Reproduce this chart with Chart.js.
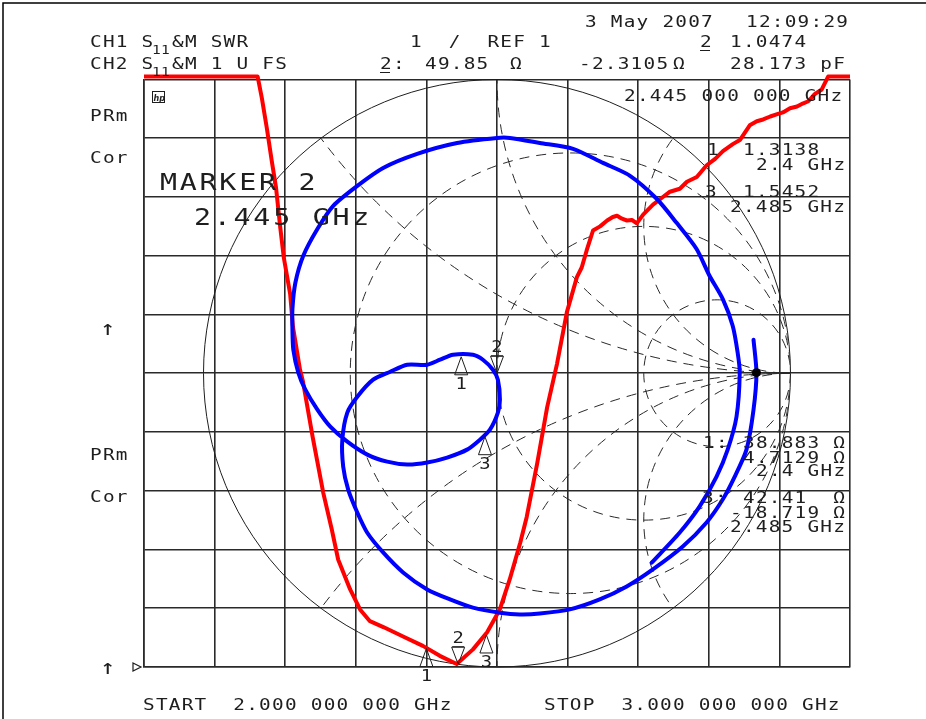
<!DOCTYPE html>
<html>
<head>
<meta charset="utf-8">
<script src="https://cdn.jsdelivr.net/npm/chart.js@4.4.1/dist/chart.umd.min.js"></script>
<style>
html,body{margin:0;padding:0;background:#fff;}
#wrap{width:926px;height:719px;position:relative;}
</style>
</head>
<body>
<div id="wrap"><canvas id="c" width="926" height="719"></canvas></div>
<script>
// ---- CH1: SWR vs frequency ----
const swrFreqGHz = [2.000,2.161,2.167,2.174,2.181,2.187,2.193,2.198,2.207,2.211,2.221,2.225,2.239,2.254,2.266,2.275,2.292,2.306,2.320,2.339,2.367,2.395,2.419,2.443,2.466,2.486,2.504,2.518,2.533,2.542,2.557,2.571,2.585,2.599,2.613,2.620,2.627,2.636,2.646,2.656,2.664,2.670,2.677,2.684,2.691,2.698,2.707,2.721,2.735,2.745,2.759,2.769,2.783,2.797,2.809,2.820,2.834,2.844,2.858,2.868,2.877,2.887,2.897,2.905,2.915,2.925,2.933,2.941,2.950,2.960,2.969,3.000];
const swrValues  = [11.05,11.05,10.68,10.17,9.61,9.16,8.48,7.97,7.35,6.79,6.06,5.87,4.91,3.96,3.34,2.83,2.32,1.98,1.78,1.68,1.52,1.36,1.19,1.05,1.30,1.59,1.98,2.49,3.12,3.55,4.47,5.42,6.16,7.04,7.63,7.80,8.09,8.43,8.50,8.60,8.66,8.68,8.63,8.60,8.61,8.55,8.70,8.87,9.00,9.09,9.14,9.26,9.34,9.54,9.65,9.78,9.90,9.97,10.22,10.29,10.32,10.37,10.41,10.44,10.51,10.54,10.59,10.63,10.75,10.83,11.05,11.05];

// ---- CH2: S11 on the Smith chart, reflection coefficient (real, imaginary) ----
const smithRe = [0.874,0.884,0.874,0.850,0.810,0.769,0.714,0.633,0.531,0.442,0.350,0.248,0.146,0.078,0.010,-0.082,-0.160,-0.238,-0.320,-0.388,-0.442,-0.476,-0.507,-0.524,-0.527,-0.510,-0.476,-0.422,-0.364,-0.306,-0.238,-0.194,-0.150,-0.082,-0.048,-0.014,0.003,0.010,0.003,-0.024,-0.058,-0.102,-0.170,-0.238,-0.306,-0.374,-0.442,-0.510,-0.568,-0.612,-0.653,-0.677,-0.694,-0.697,-0.697,-0.687,-0.660,-0.612,-0.558,-0.476,-0.388,-0.272,-0.136,0.000,0.044,0.146,0.259,0.361,0.452,0.544,0.612,0.680,0.724,0.769,0.803,0.820,0.827,0.816,0.786,0.748,0.690,0.622,0.527];
const smithIm = [0.114,0.002,-0.124,-0.260,-0.352,-0.430,-0.508,-0.590,-0.668,-0.726,-0.770,-0.804,-0.818,-0.821,-0.815,-0.798,-0.770,-0.736,-0.678,-0.610,-0.543,-0.474,-0.396,-0.318,-0.226,-0.134,-0.080,-0.022,0.005,0.029,0.029,0.046,0.063,0.063,0.046,0.012,-0.022,-0.090,-0.134,-0.192,-0.226,-0.260,-0.287,-0.304,-0.311,-0.301,-0.277,-0.233,-0.182,-0.124,-0.056,0.002,0.080,0.148,0.219,0.308,0.400,0.491,0.570,0.638,0.699,0.747,0.784,0.801,0.801,0.784,0.764,0.716,0.673,0.594,0.512,0.423,0.332,0.253,0.162,0.070,0.002,-0.148,-0.260,-0.352,-0.454,-0.543,-0.645];
const smithDotRe = [0.884];
const smithDotIm = [0.002];

// ---- markers ----
const markerLabels = ['1','2','3'];
const markerFreqGHz = [2.4, 2.445, 2.485];
const markerSwr = [1.3138, 1.0474, 1.5452];
const markerSmithRe = [-0.122, 0.000, -0.041];
const markerSmithIm = [0.056, 0.000, -0.216];
const activeMarker = 1;

// ---- axes ----
const freqStart = 2.0, freqStop = 3.0, freqStep = 0.1;
const swrRef = 1, swrTop = 11, swrPerDiv = 1;
const smithResistances = [1/3, 1, 3];
const smithReactances = [0.5, 1, 2];

const INK = '#1e1e1e';

function hpText(ctx, str, x, y, cap, pitch, align) {
  const size = cap / 0.729;
  const sx = 1.25;
  ctx.save();
  ctx.font = size.toFixed(2) + 'px "DejaVu Sans Mono"';
  ctx.letterSpacing = (pitch / sx - 0.602 * size).toFixed(2) + 'px';
  ctx.textBaseline = 'alphabetic';
  ctx.fillStyle = INK;
  ctx.translate(x, y);
  ctx.scale(sx, 1);
  if (align === 'center') {
    const w = str.length * pitch / sx;
    ctx.fillText(str, -w / 2 + (pitch / sx - 0.602 * size) / 2, 0);
  } else {
    ctx.fillText(str, 0, 0);
  }
  ctx.restore();
}

const smithGrid = {
  id: 'smithGrid',
  beforeDatasetsDraw(chart) {
    const { ctx, scales } = chart;
    const x2 = scales.x2, y2 = scales.y2;
    const px = v => x2.getPixelForValue(v), py = v => y2.getPixelForValue(v);
    const cx = px(0), cy = py(0), R = px(1) - px(0), Ry = py(0) - py(1);
    ctx.save();
    ctx.strokeStyle = INK;
    ctx.lineWidth = 1;
    ctx.beginPath(); ctx.ellipse(cx, cy, R, Ry, 0, 0, Math.PI * 2); ctx.stroke();
    ctx.beginPath(); ctx.ellipse(cx, cy, R - 0.5, Ry - 0.5, 0, 0, Math.PI * 2); ctx.clip();
    ctx.setLineDash([10, 7]);
    ctx.strokeStyle = '#2a2a2a';
    smithResistances.forEach(r => {
      const c = r / (1 + r), rad = 1 / (1 + r);
      ctx.beginPath(); ctx.ellipse(px(c), cy, rad * R, rad * Ry, 0, 0, Math.PI * 2); ctx.stroke();
    });
    smithReactances.forEach(xv => {
      [xv, -xv].forEach(xx => {
        ctx.beginPath();
        ctx.ellipse(px(1), py(1 / xx), R / Math.abs(xx), Ry / Math.abs(xx), 0, 0, Math.PI * 2);
        ctx.stroke();
      });
    });
    ctx.restore();
  }
};

function triUp(ctx, x, y, w, h) {
  ctx.beginPath(); ctx.moveTo(x, y); ctx.lineTo(x - w / 2, y + h); ctx.lineTo(x + w / 2, y + h); ctx.closePath(); ctx.stroke();
}
function triDown(ctx, x, y, w, h) {
  ctx.beginPath(); ctx.moveTo(x, y); ctx.lineTo(x - w / 2, y - h); ctx.lineTo(x + w / 2, y - h); ctx.closePath(); ctx.stroke();
}

const markersPlugin = {
  id: 'markers',
  afterDatasetsDraw(chart) {
    const { ctx, scales } = chart;
    ctx.save();
    ctx.strokeStyle = INK; ctx.lineWidth = 1;
    markerLabels.forEach((lab, i) => {
      const pts = [
        [scales.x.getPixelForValue(markerFreqGHz[i]), scales.y.getPixelForValue(markerSwr[i])],
        [scales.x2.getPixelForValue(markerSmithRe[i]), scales.y2.getPixelForValue(markerSmithIm[i])]
      ];
      pts.forEach(([x, y]) => {
        if (i === activeMarker) {
          triDown(ctx, x, y, 13, 17);
          hpText(ctx, lab, x, y - 21, 11, 12.9, 'center');
          ctx.beginPath(); ctx.moveTo(x - 6, y - 17.5); ctx.lineTo(x + 6, y - 17.5); ctx.stroke();
        } else {
          triUp(ctx, x, y, 13, 18);
          hpText(ctx, lab, x, y + 32, 11, 12.9, 'center');
        }
      });
    });
    ctx.restore();
  }
};

const textPlugin = {
  id: 'texts',
  afterDraw(chart) {
    const ctx = chart.ctx;
    const T = (s, x, y) => hpText(ctx, s, x, y, 11.3, 12.9);
    ctx.save();
    // frame
    ctx.strokeStyle = '#000'; ctx.lineWidth = 1.5;
    ctx.beginPath(); ctx.moveTo(3, 719); ctx.lineTo(3, 3); ctx.lineTo(926, 3); ctx.stroke();
    // header
    T('3 May 2007', 585, 27);
    T('12:09:29', 746, 27);
    T('CH1 S', 90, 47); hpText(ctx, '11', 152, 54, 8.5, 9); T('&M SWR', 172, 47);
    T('1  /  REF 1', 410, 47);
    T('2', 700, 47); T('1.0474', 730, 47);
    T('CH2 S', 90, 69); hpText(ctx, '11', 152, 76, 8.5, 9); T('&M 1 U FS', 172, 69);
    T('2:', 380, 69); T('49.85', 425, 69); T('Ω', 510, 69);
    T('-2.3105', 579, 69); T('Ω', 673, 69);
    T('28.173 pF', 730, 69);
    ctx.strokeStyle = INK; ctx.lineWidth = 1.2;
    ctx.beginPath(); ctx.moveTo(700, 50.5); ctx.lineTo(710, 50.5); ctx.moveTo(380, 72.5); ctx.lineTo(390, 72.5); ctx.stroke();
    // stimulus
    T('2.445 000 000 GHz', 624, 101);
    T('START  2.000 000 000 GHz', 143, 710);
    T('STOP  3.000 000 000 GHz', 544, 710);
    // side annotations
    T('PRm', 90, 121); T('Cor', 90, 163);
    T('PRm', 90, 460); T('Cor', 90, 502);
    hpText(ctx, '↑', 100, 335, 15, 12.9); hpText(ctx, '↑', 100, 674, 15, 12.9);
    ctx.beginPath(); ctx.moveTo(133, 663); ctx.lineTo(141, 667); ctx.lineTo(133, 671); ctx.closePath(); ctx.stroke();
    // hp logo
    ctx.lineWidth = 1;
    ctx.strokeRect(152.5, 91.5, 12, 11);
    ctx.font = 'italic bold 8px "DejaVu Sans"'; ctx.fillStyle = INK;
    ctx.fillText('hp', 153.5, 100.5);
    // marker annotation
    hpText(ctx, 'MARKER 2', 160, 190, 16.5, 19.8);
    hpText(ctx, '2.445 GHz', 194, 225, 16.5, 19.8);
    // CH1 marker list
    T('1', 707, 155); T('1.3138', 743, 155); T('2.4 GHz', 756, 170);
    T('3', 705, 197); T('1.5452', 743, 197); T('2.485 GHz', 730, 212);
    // CH2 marker list
    T('1:', 703, 448); T('38.883 Ω', 743, 448); T('4.7129 Ω', 743, 463); T('2.4 GHz', 756, 476);
    T('3:', 702, 503); T('42.41  Ω', 743, 503); T('-18.719 Ω', 730, 518); T('2.485 GHz', 730, 532);
    ctx.restore();
  }
};

const swrPoints = swrFreqGHz.map((f, i) => ({ x: f, y: swrValues[i] }));
const smithPoints = smithRe.map((r, i) => ({ x: r, y: smithIm[i] }));
const dotPoints = smithDotRe.map((r, i) => ({ x: r, y: smithDotIm[i] }));

const halfW = 353 / 293.5; // Smith scale half-width in units of the chart radius

new Chart(document.getElementById('c'), {
  type: 'scatter',
  data: {
    datasets: [
      { label: 'dot', data: dotPoints, xAxisID: 'x2', yAxisID: 'y2', showLine: false,
        pointRadius: 4.5, pointBackgroundColor: '#000', pointBorderWidth: 0 },
      { label: 'CH2 S11 Smith', data: smithPoints, xAxisID: 'x2', yAxisID: 'y2', showLine: true,
        borderColor: '#0000ff', borderWidth: 4, pointRadius: 0, tension: 0.25, borderCapStyle: 'round', borderJoinStyle: 'round' },
      { label: 'CH1 SWR', data: swrPoints, xAxisID: 'x', yAxisID: 'y', showLine: true, clip: false,
        borderColor: '#ff0000', borderWidth: 4, pointRadius: 0, tension: 0, borderJoinStyle: 'round' }
    ]
  },
  options: {
    responsive: false,
    animation: false,
    devicePixelRatio: 1,
    layout: { padding: { left: 144, right: 76, top: 79.5, bottom: 52 } },
    plugins: { legend: { display: false }, tooltip: { enabled: false } },
    scales: {
      x: { type: 'linear', min: freqStart, max: freqStop, position: 'bottom',
           ticks: { display: false, stepSize: freqStep }, grid: { color: '#2a2a2a', lineWidth: 1.6, drawTicks: false },
           border: { display: true, color: '#2a2a2a', width: 1.6 } },
      y: { type: 'linear', min: swrRef, max: swrTop, position: 'left',
           ticks: { display: false, stepSize: swrPerDiv }, grid: { color: '#2a2a2a', lineWidth: 1.6, drawTicks: false },
           border: { display: true, color: '#2a2a2a', width: 1.6 } },
      x2: { type: 'linear', display: false, min: -halfW, max: halfW },
      y2: { type: 'linear', display: false, min: -1, max: 1 }
    }
  },
  plugins: [smithGrid, markersPlugin, textPlugin]
});
</script>
</body>
</html>
